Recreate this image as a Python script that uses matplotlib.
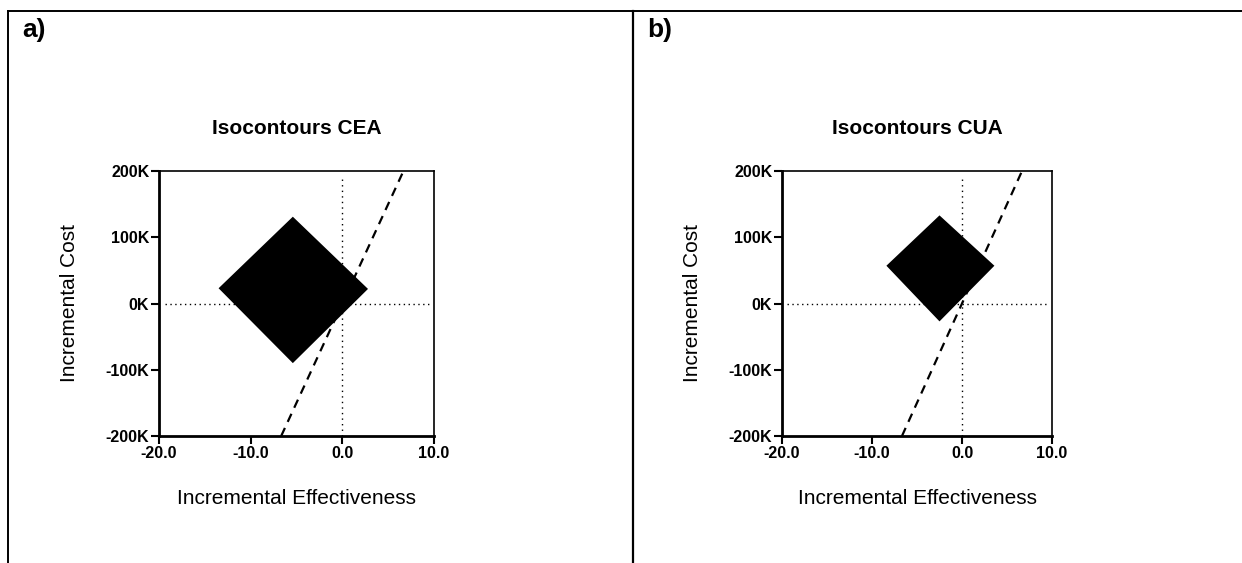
import matplotlib
matplotlib.use("Agg")
import matplotlib.pyplot as plt
from matplotlib.lines import Line2D
from matplotlib.ticker import FuncFormatter

plt.rcParams["font.family"] = ["Liberation Sans", "DejaVu Sans"]

# --- data (effectiveness units, cost in K) ---
panel_letters = ["a)", "b)"]
titles = ["Isocontours CEA", "Isocontours CUA"]
cea_diamond_x = [-13.5, -5.4, 2.8, -5.4]
cea_diamond_y = [23, 131, 22, -90]
cua_diamond_x = [-8.4, -2.5, 3.6, -2.5]
cua_diamond_y = [57, 133, 57, -27]
wtp_x = [-6.67, 6.67]          # threshold line, 30K per unit
wtp_y = [-200, 200]
x_ticks = [-20, -10, 0, 10]
y_ticks = [-200, -100, 0, 100, 200]

diamonds = [(cea_diamond_x, cea_diamond_y), (cua_diamond_x, cua_diamond_y)]

fig = plt.figure(figsize=(12.42, 5.63), dpi=100)
W, H = 1242, 563

# outer frame: top line, left line, middle divider
fig.add_artist(Line2D([8 / W, 1.0], [1 - 11 / H] * 2, color="black", lw=1.4))
fig.add_artist(Line2D([8 / W] * 2, [0, 1 - 11 / H], color="black", lw=1.4))
fig.add_artist(Line2D([633 / W] * 2, [0, 1 - 11 / H], color="black", lw=1.6))

axes_px = [(159, 434), (782, 1052)]   # left/right spine pixel x
letter_px = [22, 647]

for i, (dx, dy) in enumerate(diamonds):
    x0, x1 = axes_px[i]
    ax = fig.add_axes([x0 / W, 1 - 436 / H, (x1 - x0) / W, 265 / H])

    ax.fill(dx, dy, color="black", lw=0)
    ax.axhline(0, xmin=0.02, xmax=0.99, color="black", lw=1.0,
               linestyle=(0, (1, 2.5, 1, 2.5)))
    ax.plot([0, 0], [-200, 190], color="black", lw=1.0, linestyle=(0, (1, 3)))
    ax.plot(wtp_x, wtp_y, color="black", lw=1.6, linestyle=(0, (4, 3)))

    ax.set_xlim(-20, 10)
    ax.set_ylim(-200, 200)
    ax.set_xticks(x_ticks)
    ax.set_yticks(y_ticks)
    ax.xaxis.set_major_formatter(FuncFormatter(lambda v, p: f"{v:.1f}"))
    ax.yaxis.set_major_formatter(FuncFormatter(lambda v, p: f"{v:.0f}K"))
    ax.tick_params(direction="out", length=6, width=1.5, labelsize=11.5, pad=1)
    for lab in ax.get_xticklabels() + ax.get_yticklabels():
        lab.set_fontweight("bold")
    ax.spines["left"].set_linewidth(2.0)
    ax.spines["bottom"].set_linewidth(2.0)
    ax.spines["top"].set_linewidth(1.2)
    ax.spines["right"].set_linewidth(1.2)

    ax.set_title(titles[i], fontsize=15, fontweight="bold", pad=27)
    ax.set_xlabel("Incremental Effectiveness", fontsize=15, labelpad=20)
    ax.set_ylabel("Incremental Cost", fontsize=15, labelpad=19)

    fig.text(letter_px[i] / W, 1 - 30 / H, panel_letters[i], fontsize=19,
             fontweight="bold", va="center", ha="left")

fig.savefig("out.png", dpi=100)
